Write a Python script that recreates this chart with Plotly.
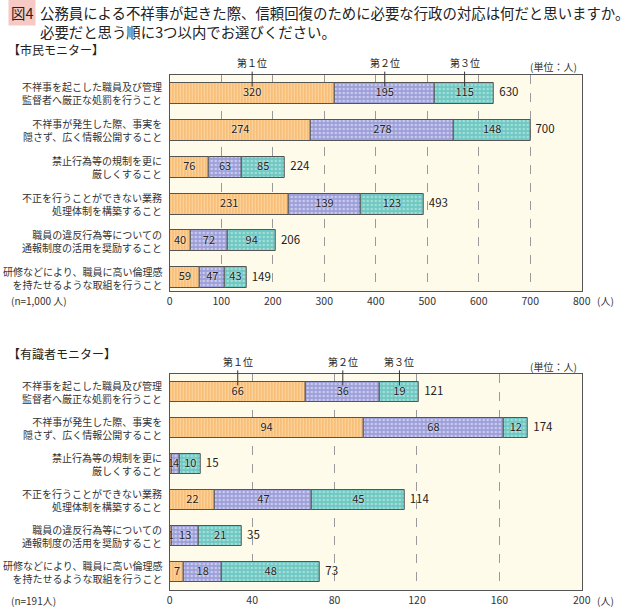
import plotly.graph_objects as go

W, H = 630, 610
FONT = "Noto Sans CJK JP"

items = [
    "不祥事を起こした職員及び管理<br>監督者へ厳正な処罰を行うこと",
    "不祥事が発生した際、事実を<br>隠さず、広く情報公開すること",
    "禁止行為等の規制を更に<br>厳しくすること",
    "不正を行うことができない業務<br>処理体制を構築すること",
    "職員の違反行為等についての<br>通報制度の活用を奨励すること",
    "研修などにより、職員に高い倫理感<br>を持たせるような取組を行うこと",
]
rank_names = ["第１位", "第２位", "第３位"]

# 市民モニター
citizen_first = [320, 274, 76, 231, 40, 59]
citizen_second = [195, 278, 63, 139, 72, 47]
citizen_third = [115, 148, 85, 123, 94, 43]
citizen_total = [630, 700, 224, 493, 206, 149]
citizen_ticks = [0, 100, 200, 300, 400, 500, 600, 700, 800]

# 有識者モニター
expert_first = [66, 94, 1, 22, 1, 7]
expert_second = [36, 68, 4, 47, 13, 18]
expert_third = [19, 12, 10, 45, 21, 48]
expert_total = [121, 174, 15, 114, 35, 73]
expert_ticks = [0, 40, 80, 120, 160, 200]

colors = ["#f8bf78", "#9c9fd8", "#6ec8c2"]
fg = ["#fcd6a3", "#c9cbee", "#a2ddd8"]
shapes_p = ["|", ".", "."]

def px_x(p):
    return p / W

def px_y(p):
    return 1 - p / H

XDOM = [px_x(170), px_x(590)]
panels = [
    dict(first=citizen_first, second=citizen_second, third=citizen_third, total=citizen_total,
         ticks=citizen_ticks, ydom=[px_y(291), px_y(75)], yr=[5.36, -0.5], xa="x", ya="y",
         head="【市民モニター】", head_y=50, n="(n=1,000 人)", n_y=300, unit_y=67),
    dict(first=expert_first, second=expert_second, third=expert_third, total=expert_total,
         ticks=expert_ticks, ydom=[px_y(590), px_y(374)], yr=[5.5, -0.5], xa="x2", ya="y2",
         head="【有識者モニター】", head_y=353, n="(n=191人)", n_y=600, unit_y=366),
]

fig = go.Figure()
annotations = []
rows = list(range(len(items)))
BW = 0.57

for pi, p in enumerate(panels):
    series = [p["first"], p["second"], p["third"]]
    base = [0] * len(items)
    mids_all = []
    for si, vals in enumerate(series):
        fig.add_trace(go.Bar(
            x=vals, y=rows, base=base, orientation="h", width=BW,
            marker=dict(color=colors[si], line=dict(color="#555555", width=1),
                        pattern=dict(shape=shapes_p[si], fgcolor=fg[si], bgcolor=colors[si],
                                     size=3 if si == 0 else 4, solidity=0.35, fillmode="replace")),
            xaxis=p["xa"], yaxis=p["ya"], showlegend=False, hoverinfo="skip",
        ))
        mids = [b + v / 2 for b, v in zip(base, vals)]
        mids_all.append(mids)
        fig.add_trace(go.Scatter(
            x=mids, y=rows, mode="text", text=[str(v) for v in vals],
            textposition="middle center",
            textfont=dict(family=FONT, size=11, color="#222222",
                          shadow="0px 0px 2px #ffffff"),
            xaxis=p["xa"], yaxis=p["ya"], showlegend=False, hoverinfo="skip",
        ))
        base = [b + v for b, v in zip(base, vals)]
    fig.add_trace(go.Scatter(
        x=p["total"], y=rows, mode="text", text=["\u00a0\u00a0" + str(v) for v in p["total"]],
        textposition="middle right",
        textfont=dict(family=FONT, size=11.5, color="#222222"),
        xaxis=p["xa"], yaxis=p["ya"], showlegend=False, hoverinfo="skip",
    ))
    # rank callouts on first row
    for si in range(3):
        annotations.append(dict(
            x=mids_all[si][0], y=-BW / 2 + 0.1, xref=p["xa"], yref=p["ya"],
            text=rank_names[si], showarrow=True, arrowhead=0, arrowwidth=1, arrowcolor="#333333",
            ax=0, ay=-24, axref="pixel", ayref="pixel",
            font=dict(family=FONT, size=10, color="#222222"),
        ))
    # category labels
    for r, lab in zip(rows, items):
        annotations.append(dict(
            x=px_x(164), y=r, xref="paper", yref=p["ya"], text=lab, showarrow=False,
            xanchor="right", yanchor="middle", align="right",
            font=dict(family=FONT, size=10, color="#333333"),
        ))
    annotations.append(dict(x=px_x(3), y=px_y(p["head_y"]), xref="paper", yref="paper",
                            text=p["head"], showarrow=False, xanchor="left", yanchor="middle",
                            font=dict(family=FONT, size=12, color="#222222")))
    annotations.append(dict(x=px_x(6), y=px_y(p["n_y"]), xref="paper", yref="paper",
                            text=p["n"], showarrow=False, xanchor="left", yanchor="middle",
                            font=dict(family=FONT, size=10, color="#333333")))
    annotations.append(dict(x=px_x(587), y=px_y(p["unit_y"]), xref="paper", yref="paper",
                            text="(単位：人)", showarrow=False, xanchor="right", yanchor="middle",
                            font=dict(family=FONT, size=10, color="#333333")))
    annotations.append(dict(x=px_x(603), y=px_y(p["n_y"]), xref="paper", yref="paper",
                            text="(人)", showarrow=False, xanchor="left", yanchor="middle",
                            font=dict(family=FONT, size=10, color="#333333")))

annotations.append(dict(x=px_x(5), y=px_y(13), xref="paper", yref="paper", text="図4",
                        showarrow=False, xanchor="left", yanchor="middle", bgcolor="#f6c9c4",
                        borderpad=2, font=dict(family=FONT, size=14.4, color="#222222")))
annotations.append(dict(x=px_x(36), y=px_y(13), xref="paper", yref="paper",
                        text="公務員による不祥事が起きた際、信頼回復のために必要な行政の対応は何だと思いますか。",
                        showarrow=False, xanchor="left", yanchor="middle",
                        font=dict(family=FONT, size=14.4, color="#222222")))
annotations.append(dict(x=px_x(36), y=px_y(31), xref="paper", yref="paper",
                        text="必要だと思う順に3つ以内でお選びください。",
                        showarrow=False, xanchor="left", yanchor="middle",
                        font=dict(family=FONT, size=14.4, color="#222222")))

axis_common = dict(showgrid=True, gridcolor="#9a9a9a", griddash="dash", gridwidth=1,
                   showline=True, linecolor="#555555", linewidth=1, mirror=True,
                   zeroline=False, ticks="", tickfont=dict(family=FONT, size=10.5, color="#333333"))

fig.update_layout(
    width=W, height=H, margin=dict(l=0, r=0, t=0, b=0),
    paper_bgcolor="white", plot_bgcolor="#fffbea",
    barmode="overlay", bargap=0,
    xaxis=dict(domain=XDOM, range=[0, 800], tickvals=citizen_ticks, anchor="y", **axis_common),
    yaxis=dict(domain=panels[0]["ydom"], range=panels[0]["yr"], anchor="x", showgrid=False,
               showticklabels=False, showline=True, linecolor="#555555", mirror=True, zeroline=False, ticks=""),
    xaxis2=dict(domain=XDOM, range=[0, 200], tickvals=expert_ticks, anchor="y2", **axis_common),
    yaxis2=dict(domain=panels[1]["ydom"], range=panels[1]["yr"], anchor="x2", showgrid=False,
                showticklabels=False, showline=True, linecolor="#555555", mirror=True, zeroline=False, ticks=""),
    annotations=annotations,
    font=dict(family=FONT),
)

fig.write_html("out.html", config={"displayModeBar": False},
               post_script="document.body.style.margin='0';document.body.style.overflow='hidden';")
